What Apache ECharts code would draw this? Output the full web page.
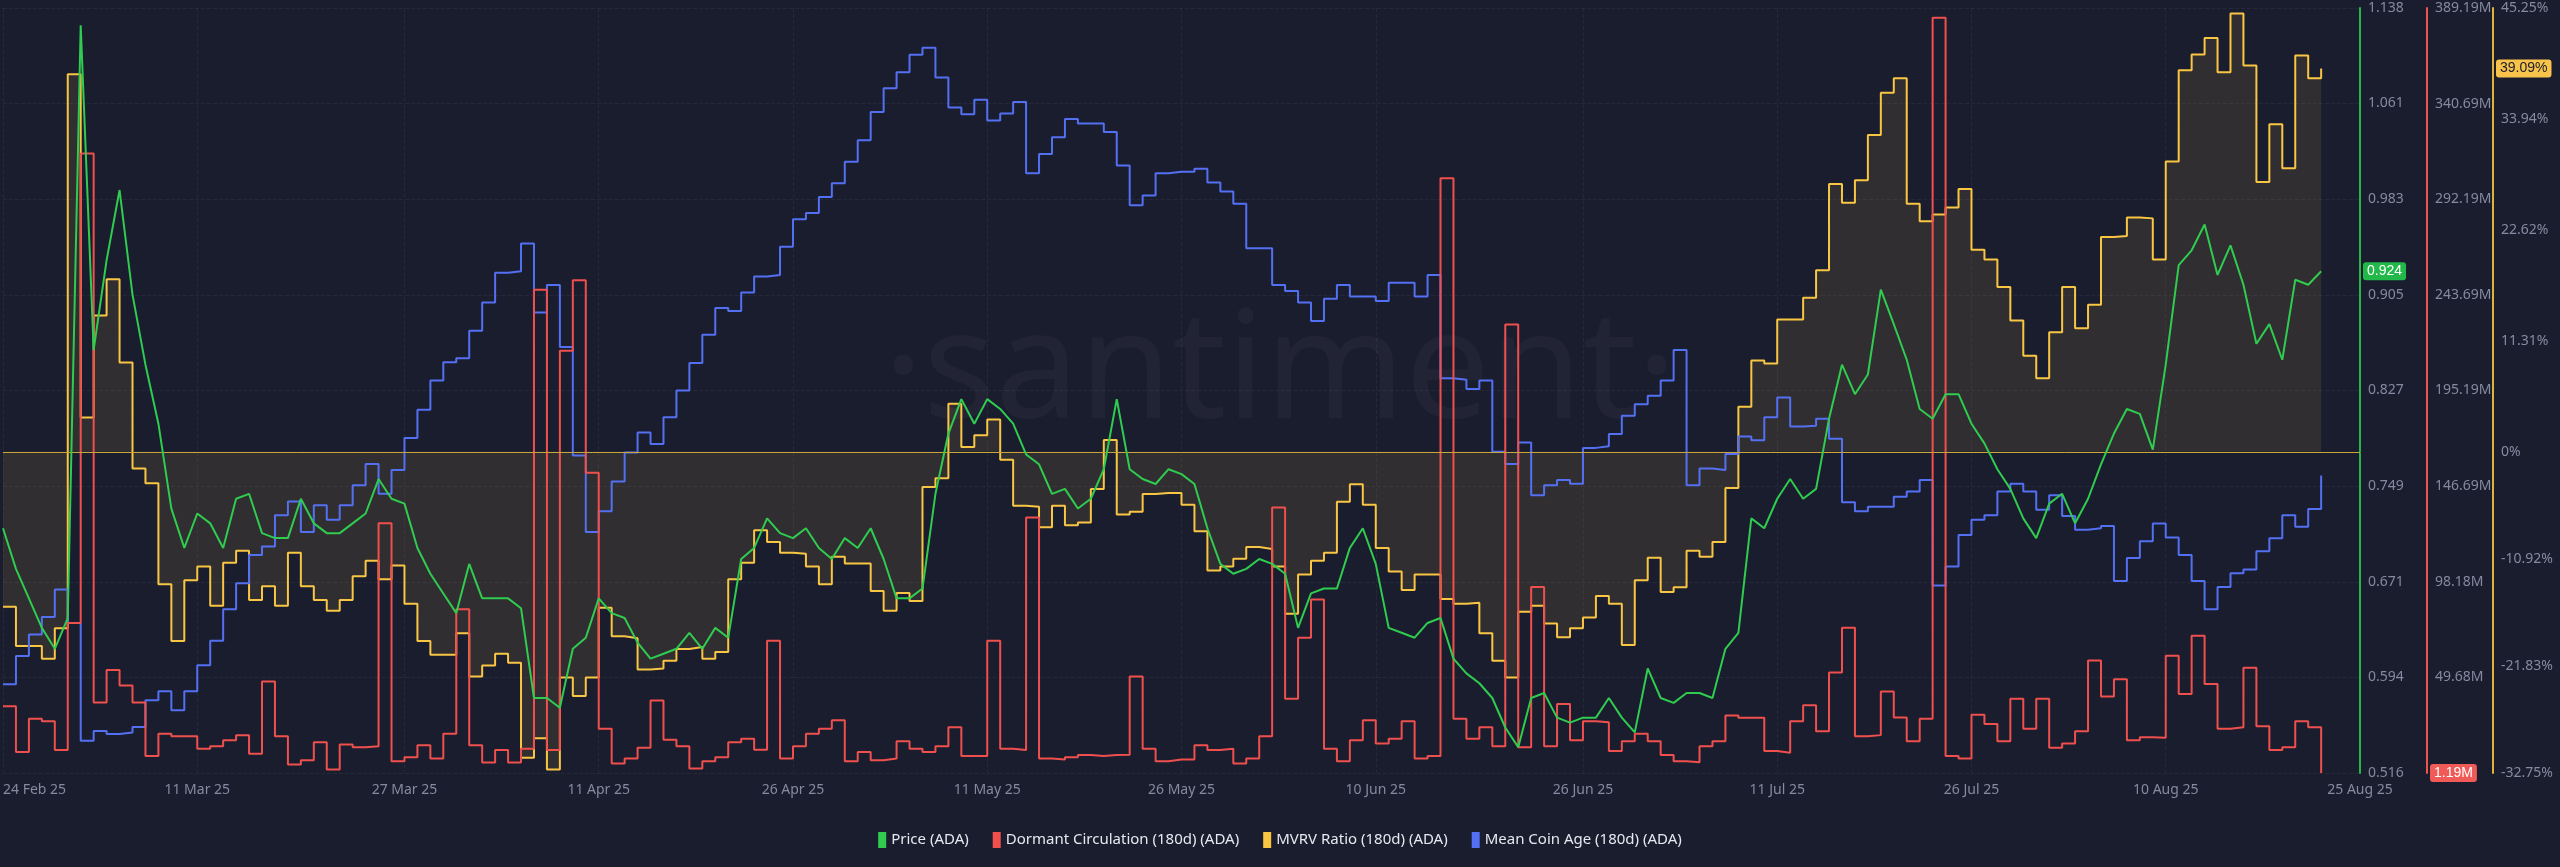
<!DOCTYPE html>
<html>
<head>
<meta charset="utf-8">
<title>ADA on-chain</title>
<script src="https://cdn.jsdelivr.net/npm/echarts@6/dist/echarts.min.js"></script>
<style>
  html, body { margin: 0; padding: 0; background: #1a1d2e; }
  #chart { width: 2560px; height: 867px; }
</style>
</head>
<body>
<div id="chart"></div>
<script>
// daily categories, 24 Feb 25 .. 25 Aug 25
var months = ['Jan','Feb','Mar','Apr','May','Jun','Jul','Aug','Sep','Oct','Nov','Dec'];
var dates = [];
for (var i = 0; i < 183; i++) {
    var dt = new Date(Date.UTC(2025, 1, 24 + i));
    dates.push(dt.getUTCDate() + ' ' + months[dt.getUTCMonth()] + ' 25');
}
var dateTicks = ['24 Feb 25','11 Mar 25','27 Mar 25','11 Apr 25','26 Apr 25','11 May 25','26 May 25',
                 '10 Jun 25','26 Jun 25','11 Jul 25','26 Jul 25','10 Aug 25','25 Aug 25'];

var priceTicks = [0.516, 0.594, 0.671, 0.749, 0.827, 0.905, 0.983, 1.061, 1.138];
var dormantTicks = [1.19, 49.68, 98.18, 146.69, 195.19, 243.69, 292.19, 340.69, 389.19];
var mvrvTicks = [-32.75, -21.83, -10.92, 0, 11.31, 22.62, 33.94, 45.25];

var price = [
 .715,.682,.658,.634,.617,.642,1.124,.860,.933,.990,.905,.848,.800,.731,.699,.727,.719,.699,.739,.743,
 .711,.707,.707,.739,.719,.711,.711,.719,.727,.755,.739,.735,.699,.678,.662,.646,.686,.658,.658,.658,
 .650,.577,.577,.569,.617,.626,.658,.646,.642,.622,.609,.613,.617,.630,.617,.634,.626,.690,.699,.723,
 .711,.707,.715,.699,.690,.707,.699,.715,.690,.658,.658,.666,.743,.792,.820,.800,.820,.812,.800,.775,
 .767,.743,.747,.731,.739,.763,.820,.763,.755,.751,.763,.759,.751,.715,.686,.678,.682,.690,.686,.678,
 .634,.662,.666,.666,.699,.715,.686,.634,.630,.626,.638,.642,.609,.597,.589,.577,.553,.537,.577,.581,
 .561,.557,.561,.561,.577,.561,.549,.601,.577,.573,.581,.581,.577,.617,.630,.723,.715,.739,.755,.739,
 .747,.804,.848,.824,.840,.909,.881,.852,.812,.804,.824,.824,.800,.784,.763,.747,.723,.707,.735,.743,
 .719,.739,.767,.792,.812,.808,.779,.848,.929,.941,.962,.921,.945,.913,.865,.881,.852,.917,.913,.924
];

var dormant = [
 35.0,11.8,28.7,27.4,12.8,77.3,315.4,37.0,53.4,45.6,37.0,9.8,21.1,19.8,19.8,13.5,14.8,17.8,20.3,11.0,
 47.6,19.8,5.5,7.7,16.8,3.0,15.6,14.3,14.8,127.8,7.2,9.2,15.3,8.5,21.1,84.2,15.3,6.5,12.8,6.5,
 13.5,246.3,12.8,215.3,251.1,153.5,23.6,6.0,8.5,14.0,38.0,18.1,14.8,3.5,7.2,9.2,16.8,18.6,13.0,68.3,
 8.5,14.8,21.1,23.6,27.9,7.2,11.8,7.7,8.5,17.3,13.5,11.8,14.8,24.4,9.8,9.8,68.3,13.5,12.8,130.8,
 8.5,8.0,9.2,10.3,9.8,10.3,10.5,50.1,13.5,7.2,8.0,8.0,15.3,12.8,13.5,6.0,8.5,19.8,135.9,38.8,
 69.8,89.2,13.5,7.2,17.8,27.9,16.1,18.6,27.4,8.5,9.8,302.8,28.7,18.6,24.4,14.8,228.7,14.3,95.5,14.8,
 36.2,17.8,27.4,26.9,12.3,17.3,21.1,17.3,10.3,7.2,6.7,14.8,17.3,30.4,29.2,29.2,12.3,11.5,27.4,35.5,
 22.4,52.1,74.8,19.8,20.4,42.5,29.4,17.3,28.7,384.3,9.8,8.5,30.7,26.1,17.3,38.8,23.6,38.8,14.0,16.1,
 22.4,58.2,40.0,48.8,17.8,19.3,19.1,60.7,41.3,70.8,46.3,23.6,24.4,54.6,24.9,12.8,14.3,27.4,24.4,1.19
];

var mvrv = [
 -15.8,-19.8,-19.8,-21.1,-18.0,38.5,3.5,13.9,17.6,9.1,-1.7,-3.2,-13.5,-19.3,-13.1,-11.7,-15.7,-11.3,-10.1,-15.1,
 -13.7,-15.7,-10.3,-13.7,-15.1,-16.2,-15.1,-12.7,-11.1,-13.0,-11.6,-15.5,-19.3,-20.7,-20.7,-18.5,-22.9,-21.8,-20.6,-21.5,
 -31.2,-29.2,-32.4,-23.0,-24.9,-23.0,-15.9,-18.8,-19.0,-22.2,-22.1,-21.3,-20.1,-19.9,-21.1,-20.4,-13.0,-11.3,-8.0,-9.2,
 -10.3,-10.4,-11.7,-13.5,-10.7,-11.4,-11.4,-14.2,-16.2,-14.4,-15.2,-3.6,-2.7,4.9,0.5,1.7,3.3,-0.8,-5.5,-5.6,
 -7.7,-5.5,-7.5,-7.2,-3.8,1.2,-6.4,-6.1,-4.3,-4.2,-4.2,-5.4,-8.1,-12.1,-11.7,-10.9,-9.7,-9.9,-11.7,-16.5,
 -12.5,-11.1,-10.3,-5.1,-3.3,-5.4,-9.8,-12.2,-14.1,-12.5,-12.5,-15.0,-15.5,-15.4,-18.5,-21.3,-23.0,-16.3,-15.7,-17.5,
 -18.9,-18.0,-16.9,-14.7,-15.5,-19.7,-13.1,-10.8,-14.3,-13.8,-10.1,-10.7,-9.2,-3.7,4.6,9.3,9.0,13.5,13.5,15.7,
 18.5,27.3,25.4,27.7,32.3,36.6,38.1,25.3,23.5,24.2,24.9,26.8,20.6,19.6,16.8,13.4,9.8,7.5,12.2,16.8,
 12.6,15.0,21.9,22.0,23.9,23.8,19.6,29.6,38.9,40.5,42.2,38.7,44.7,39.4,27.5,33.4,28.9,40.4,38.1,39.09
];

// mean coin age, relative level (axis hidden)
var coinAge = [
 11.6,15.3,18.1,20.4,24.0,19.6,4.2,5.5,5.1,5.3,6.0,9.5,10.7,8.2,10.7,14.1,17.3,21.4,24.8,28.5,
 29.6,33.7,35.5,31.5,35.0,33.1,35.0,37.6,40.4,36.5,39.6,43.8,47.5,51.3,53.7,54.2,57.8,61.5,65.4,65.6,
 69.2,60.2,63.8,55.7,41.5,31.5,34.2,38.1,41.9,44.5,43.0,46.5,50.0,53.6,57.3,60.8,60.4,62.8,64.9,65.1,
 68.8,72.4,73.2,75.3,77.1,79.9,82.7,86.4,89.5,91.6,93.9,94.8,90.9,87.0,86.1,88.0,85.3,86.2,87.7,78.4,
 80.9,83.1,85.5,84.9,84.9,83.8,79.4,74.2,75.5,78.4,78.6,78.6,79.0,77.2,76.0,74.4,68.6,68.6,63.8,63.0,
 61.5,59.1,62.0,63.8,62.3,62.3,61.7,64.1,64.1,62.3,65.1,51.6,51.4,50.2,51.3,42.0,40.4,43.2,36.3,37.6,
 38.3,37.8,42.5,42.7,44.3,46.7,48.2,49.3,51.3,55.3,37.6,39.8,39.6,41.7,44.0,43.5,46.5,49.1,45.3,45.4,
 46.3,43.7,35.4,34.2,34.8,34.8,36.1,36.8,38.3,24.5,27.0,31.1,33.1,33.7,36.8,37.8,36.8,34.4,36.3,33.6,
 31.8,32.0,32.3,25.1,28.1,30.3,32.6,30.8,28.5,25.1,21.4,24.3,26.1,26.6,29.0,30.7,33.7,32.2,34.5,38.9
];

var labelColor = '#858aa0';
var isTick = function (idx) { return dateTicks.indexOf(dates[idx]) >= 0; };

var chart = echarts.init(document.getElementById('chart'));
chart.setOption({
    backgroundColor: '#1a1d2e',
    animation: false,
    graphic: [{
        type: 'text', left: 'center', top: 300, z: 0, silent: true,
        style: { text: '·santiment·', fill: 'rgba(255,255,255,0.035)', fontSize: 150,
                 fontFamily: 'Noto Sans', fontWeight: 400 }
    }],
    grid: { left: 0, right: 200, top: 8, bottom: 94 },
    legend: {
        bottom: 14, left: 'center', itemWidth: 8, itemHeight: 16, itemGap: 24,
        icon: 'rect',
        textStyle: { color: '#e6e8ef', fontSize: 15, fontFamily: 'Noto Sans' },
        data: ['Price (ADA)', 'Dormant Circulation (180d) (ADA)', 'MVRV Ratio (180d) (ADA)', 'Mean Coin Age (180d) (ADA)']
    },
    xAxis: {
        type: 'category', data: dates, boundaryGap: false,
        axisLine: { lineStyle: { color: '#2e3244' } },
        axisTick: { show: false },
        axisLabel: { color: labelColor, fontSize: 14, fontFamily: 'Noto Sans', margin: 10,
                     interval: isTick, alignMinLabel: 'left', alignMaxLabel: 'center' },
        splitLine: { show: true, interval: isTick,
                     lineStyle: { color: 'rgba(255,255,255,0.05)', type: 'dashed' } }
    },
    yAxis: [
        {   // price
            type: 'value', position: 'right', min: 0.516, max: 1.138, offset: 0,
            axisLine: { show: true, lineStyle: { color: '#26b64a', width: 2 } },
            axisTick: { show: false },
            splitLine: { show: false },
            axisLabel: { color: labelColor, fontSize: 14, fontFamily: 'Noto Sans', margin: 8,
                         customValues: priceTicks, formatter: function (v) { return v.toFixed(3); } },
            axisPointer: { show: true, value: 0.924, status: 'show', triggerTooltip: false,
                           lineStyle: { opacity: 0 },
                           label: { backgroundColor: '#22b84a', color: '#fff', fontSize: 14, padding: [2, 4],
                                    formatter: '0.924' } }
        },
        {   // dormant circulation
            type: 'value', position: 'right', min: 1.19, max: 389.19, offset: 67,
            axisLine: { show: true, lineStyle: { color: '#ef5350', width: 2 } },
            axisTick: { show: false },
            splitLine: { show: false },
            axisLabel: { color: labelColor, fontSize: 14, fontFamily: 'Noto Sans', margin: 8,
                         customValues: dormantTicks, formatter: function (v) { return v.toFixed(2) + 'M'; } },
            axisPointer: { show: true, value: 1.19, status: 'show', triggerTooltip: false,
                           lineStyle: { opacity: 0 },
                           label: { backgroundColor: '#f05a57', color: '#fff', fontSize: 14, padding: [2, 4],
                                    formatter: '1.19M' } }
        },
        {   // MVRV
            type: 'value', position: 'right', min: -32.75, max: 45.25, offset: 133,
            axisLine: { show: true, lineStyle: { color: '#e0b23a', width: 2 } },
            axisTick: { show: false },
            splitLine: { show: false },
            axisLabel: { color: labelColor, fontSize: 14, fontFamily: 'Noto Sans', margin: 8,
                         customValues: mvrvTicks, formatter: function (v) { return v + '%'; } },
            axisPointer: { show: true, value: 39.09, status: 'show', triggerTooltip: false,
                           lineStyle: { opacity: 0 },
                           label: { backgroundColor: '#f7c34a', color: '#1a1d2e', fontSize: 14, padding: [2, 4],
                                    formatter: '39.09%' } }
        },
        {   // mean coin age (hidden) + horizontal grid
            type: 'value', position: 'right', min: 0, max: 100, interval: 12.5, show: true,
            axisLine: { show: false }, axisTick: { show: false }, axisLabel: { show: false },
            splitLine: { show: true, lineStyle: { color: 'rgba(255,255,255,0.05)', type: 'dashed' } }
        }
    ],
    series: [
        {
            name: 'MVRV Ratio (180d) (ADA)', type: 'line', yAxisIndex: 2, data: mvrv,
            step: 'end', symbol: 'none', z: 2,
            lineStyle: { color: '#f9c644', width: 2 },
            itemStyle: { color: '#f9c644' },
            areaStyle: { color: 'rgba(255,200,80,0.14)' },
            markLine: { silent: true, symbol: 'none', label: { show: false },
                        lineStyle: { color: '#c9a63c', type: 'solid', width: 1 },
                        data: [{ yAxis: 0 }] }
        },
        {
            name: 'Mean Coin Age (180d) (ADA)', type: 'line', yAxisIndex: 3, data: coinAge,
            step: 'end', symbol: 'none', z: 3,
            lineStyle: { color: '#5470f2', width: 2 }, itemStyle: { color: '#5470f2' }
        },
        {
            name: 'Dormant Circulation (180d) (ADA)', type: 'line', yAxisIndex: 1, data: dormant,
            step: 'end', symbol: 'none', z: 4,
            lineStyle: { color: '#f0504d', width: 2 }, itemStyle: { color: '#f0504d' }
        },
        {
            name: 'Price (ADA)', type: 'line', yAxisIndex: 0, data: price,
            symbol: 'none', z: 5,
            lineStyle: { color: '#2fcc4f', width: 2 }, itemStyle: { color: '#2fcc4f' }
        }
    ]
});
</script>
</body>
</html>
